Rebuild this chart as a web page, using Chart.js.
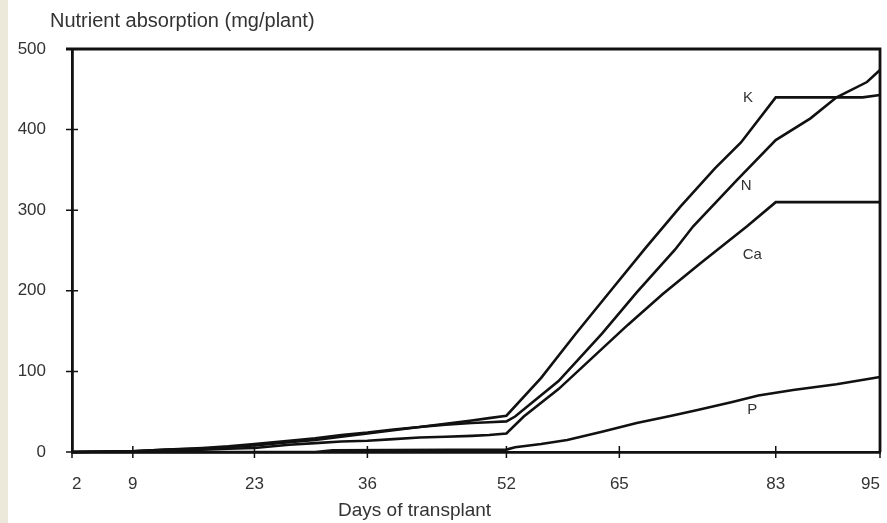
<!DOCTYPE html>
<html>
<head>
<meta charset="utf-8">
<script src="https://cdn.jsdelivr.net/npm/chart.js@4/dist/chart.umd.min.js"></script>
<style>
  html, body { margin: 0; padding: 0; background: #ffffff; }
  #wrap { position: relative; width: 887px; height: 523px;
          background: linear-gradient(to right, #ece8da 0px, #ece8da 8px, #ffffff 8px); }
</style>
</head>
<body>
<div id="wrap"><canvas id="chart" width="887" height="523"></canvas></div>
<script>
// days after transplant, and absorption in mg/plant
const kDays = [2, 9, 13, 17, 20, 23, 27, 30, 33, 36, 39, 42, 45, 48, 50, 52, 56, 60, 64, 68, 72, 76, 79, 83, 90, 93, 95];
const kVals = [0, 1, 3, 5, 7, 10, 14, 17, 21, 24, 28, 31, 35, 39, 42, 45, 92, 147, 200, 253, 304, 352, 384, 440, 440, 440, 443];

const nDays = [2, 9, 13, 17, 20, 23, 27, 30, 33, 36, 39, 42, 45, 48, 50, 52, 53, 58, 63, 67, 71.4, 73.5, 78.5, 83, 87, 90, 93.5, 95];
const nVals = [0, 1, 3, 4, 6, 8, 12, 15, 19, 23, 27, 31, 34, 36, 37, 38, 44, 88, 147, 198, 251, 280, 337, 387, 414, 440, 459, 474];

const caDays = [2, 9, 13, 17, 20, 23, 27, 30, 33, 36, 39, 42, 45, 48, 50, 52, 54, 58, 62, 66, 70, 74.3, 79.7, 83, 95];
const caVals = [0, 1, 2, 3, 4, 5, 9, 11, 13, 14, 16, 18, 19, 20, 21, 23, 44, 78, 118, 158, 196, 234, 280, 310, 310];

const pDays = [2, 30, 32, 52, 53, 56, 59, 63, 67, 71, 74, 78, 81, 85, 90, 95];
const pVals = [0, 0, 2, 3, 6, 10, 15, 25, 36, 45, 52, 62, 70, 77, 84, 93];

const xTicks = [2, 9, 23, 36, 52, 65, 83, 95];
const yTicks = [0, 100, 200, 300, 400, 500];

// where the element names sit, in data units
const seriesNames = ['K', 'N', 'Ca', 'P'];
const nameDays = [79.8, 79.6, 80.3, 80.3];
const nameVals = [440, 330, 245, 52];

const yTitle = 'Nutrient absorption (mg/plant)';
const xTitle = 'Days of transplant';
const FONT = '"Liberation Sans", Arial, sans-serif';

function toPoints(days, vals) {
    return days.map((d, i) => ({x: d, y: vals[i]}));
}

function lineSet(label, days, vals) {
    return {
        label: label,
        data: toPoints(days, vals),
        borderColor: '#111111',
        borderWidth: 2.6,
        pointRadius: 0,
        tension: 0,
        fill: false,
        clip: false
    };
}

// box on top/right, ticks crossing the axes, titles and the element names
const frameAndNames = {
    id: 'frameAndNames',
    afterDatasetsDraw(chart) {
        const ctx = chart.ctx;
        const area = chart.chartArea;
        const xs = chart.scales.x;
        const ys = chart.scales.y;
        ctx.save();
        ctx.strokeStyle = '#111111';
        ctx.lineWidth = 2.8;
        ctx.beginPath();
        ctx.moveTo(area.left - 6, area.top);
        ctx.lineTo(area.right, area.top);
        ctx.lineTo(area.right, area.bottom);
        ctx.stroke();

        ctx.lineWidth = 1.5;
        ctx.beginPath();
        yTicks.forEach(v => {
            const py = ys.getPixelForValue(v);
            ctx.moveTo(area.left - 6, py);
            ctx.lineTo(area.left + 6, py);
        });
        xTicks.forEach(v => {
            const px = xs.getPixelForValue(v);
            ctx.moveTo(px, area.bottom - 6);
            ctx.lineTo(px, area.bottom + 6);
        });
        ctx.stroke();

        ctx.fillStyle = '#333333';
        ctx.textBaseline = 'middle';
        ctx.textAlign = 'left';
        ctx.font = '20px ' + FONT;
        ctx.fillText(yTitle, 50, 21);
        ctx.font = '19px ' + FONT;
        ctx.fillText(xTitle, 338, 511);

        ctx.font = '15px ' + FONT;
        ctx.textAlign = 'center';
        seriesNames.forEach((name, i) => {
            ctx.fillText(name, xs.getPixelForValue(nameDays[i]), ys.getPixelForValue(nameVals[i]));
        });
        ctx.restore();
    }
};

new Chart(document.getElementById('chart'), {
    type: 'line',
    data: {
        datasets: [
            lineSet('K', kDays, kVals),
            lineSet('N', nDays, nVals),
            lineSet('Ca', caDays, caVals),
            lineSet('P', pDays, pVals)
        ]
    },
    options: {
        responsive: false,
        animation: false,
        layout: {
            autoPadding: false,
            padding: {left: 0, right: 7, top: 49, bottom: 0}
        },
        plugins: {
            legend: {display: false},
            tooltip: {enabled: false},
            title: {display: false}
        },
        scales: {
            x: {
                type: 'linear',
                min: 2,
                max: 95,
                afterBuildTicks: scale => {
                    scale.ticks = xTicks.map(v => ({value: v}));
                },
                afterFit: scale => {
                    scale.height = 71;
                    scale.paddingLeft = 0;
                    scale.paddingRight = 0;
                },
                grid: {display: false, drawTicks: false},
                border: {display: true, color: '#111111', width: 2.8},
                ticks: {
                    autoSkip: false,
                    maxRotation: 0,
                    align: 'inner',
                    padding: 22,
                    color: '#333333',
                    font: {family: FONT, size: 17}
                }
            },
            y: {
                min: 0,
                max: 500,
                afterBuildTicks: scale => {
                    scale.ticks = yTicks.map(v => ({value: v}));
                },
                afterFit: scale => {
                    scale.width = 72;
                    scale.paddingTop = 0;
                    scale.paddingBottom = 0;
                },
                grid: {display: false, drawTicks: false},
                border: {display: true, color: '#111111', width: 2.8},
                ticks: {
                    padding: 26,
                    color: '#333333',
                    font: {family: FONT, size: 17}
                }
            }
        }
    },
    plugins: [frameAndNames]
});
</script>
</body>
</html>
